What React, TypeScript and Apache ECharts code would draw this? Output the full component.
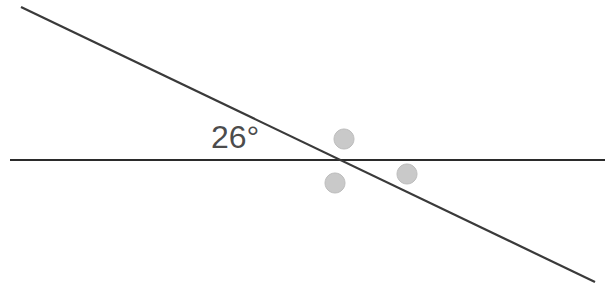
import React, { useEffect, useRef } from "react";
import * as echarts from "echarts";

// Geometry in picture units (x to the right, y downward)
const horizontalLine: number[][] = [[10, 160], [605, 160]];
const slantedLine: number[][] = [[21, 7], [595, 282]];
const markers: number[][] = [[344, 139], [335, 183], [407, 174]];
const angleLabel = "26°";
const angleLabelPoint: number[][] = [[211, 137]];

export default function App() {
  const ref = useRef<HTMLDivElement>(null);
  useEffect(() => {
    if (!ref.current) return;
    const chart = echarts.init(ref.current, null, { renderer: "svg" });
    chart.setOption({
      animation: false,
      backgroundColor: "#ffffff",
      grid: { left: 0, top: 0, right: 0, bottom: 0 },
      xAxis: { type: "value", min: 0, max: 605, show: false },
      yAxis: { type: "value", min: 0, max: 291, inverse: true, show: false },
      series: [
        {
          type: "line",
          data: horizontalLine,
          symbol: "none",
          lineStyle: { color: "#2b2b2b", width: 2 },
          silent: true,
        },
        {
          type: "line",
          data: slantedLine,
          symbol: "none",
          lineStyle: { color: "#3a3a3a", width: 2.2 },
          silent: true,
        },
        {
          type: "scatter",
          data: markers,
          symbol: "circle",
          symbolSize: 20,
          itemStyle: { color: "#c9c9c9", borderColor: "#bdbdbd", borderWidth: 1, opacity: 1 },
        },
        {
          type: "scatter",
          data: angleLabelPoint,
          symbolSize: 0,
          label: {
            show: true,
            position: "inside",
            align: "left",
            verticalAlign: "middle",
            formatter: angleLabel,
            fontFamily: "Liberation Sans, Arial, sans-serif",
            fontSize: 32,
            color: "#1a1a1a",
          },
        },
      ],
    });
    return () => chart.dispose();
  }, []);
  return (
    <div
      ref={ref}
      style={{ position: "fixed", left: 0, top: 0, width: 605, height: 291 }}
    />
  );
}
